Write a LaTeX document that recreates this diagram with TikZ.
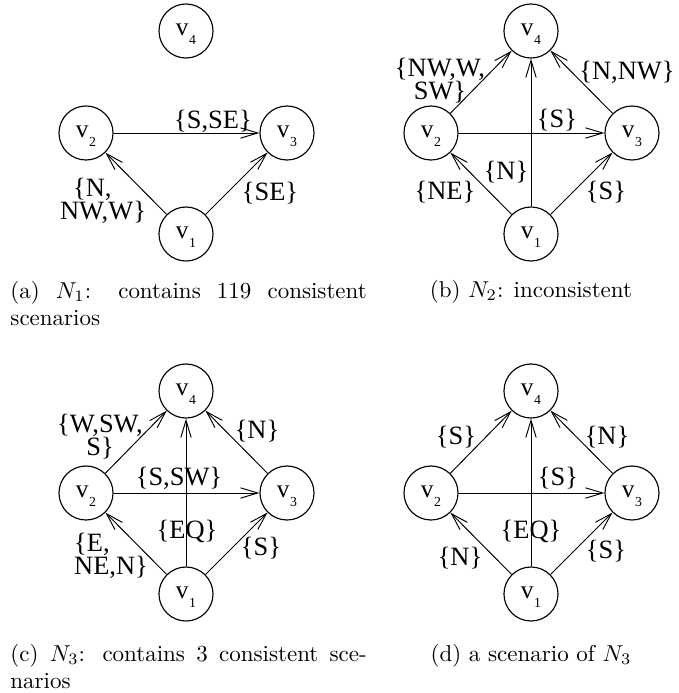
\documentclass[tikz,border=0pt]{standalone}
\usepackage{fontspec}
\newfontfamily\tfont{Liberation Serif}
\usetikzlibrary{arrows.meta}
\newcommand\vlab[1]{v\kern0.3pt\raisebox{-4pt}{\fontsize{6}{7}\selectfont #1}}
\begin{document}
\begin{tikzpicture}[x=0.435pt,y=-0.435pt,
  vtx/.style={circle,draw,line width=0.5pt,minimum size=23.5pt,inner sep=0pt,
    text height=5pt,text depth=1.4pt,font=\tfont\fontsize{11}{13}\selectfont},
  lab/.style={font=\tfont\fontsize{11.5}{10}\selectfont,inner sep=0pt},
  conn/.style={line width=0.42pt,-{Straight Barb[length=7.5pt,width=4.5pt]}},
  captext/.style={font=\fontsize{10}{12}\selectfont,inner sep=0pt}]
\useasboundingbox (0,0) rectangle (678,693);
% ---- (a)
\node[vtx] (a4) at (186,31) {\vlab{4}};
\node[vtx] (a2) at (86,133) {\vlab{2}};
\node[vtx] (a3) at (287,133) {\vlab{3}};
\node[vtx] (a1) at (186,234) {\vlab{1}};
\draw[conn] (a2) -- (a3);
\draw[conn] (a1) -- (a2);
\draw[conn] (a1) -- (a3);
\node[lab] (la23) at (213,121) {\{S,SE\}};
\node[lab,align=left] (la12) at (103,201) {\hspace*{5.7pt}\{N,\\NW,W\}};
\node[lab] (la13) at (270,193) {\{SE\}};
% ---- (b)
\node[vtx] (b4) at (531,31) {\vlab{4}};
\node[vtx] (b2) at (431,133) {\vlab{2}};
\node[vtx] (b3) at (632,133) {\vlab{3}};
\node[vtx] (b1) at (531,234) {\vlab{1}};
\draw[conn] (b2) -- (b3);
\draw[conn] (b1) -- (b2);
\draw[conn] (b1) -- (b3);
\draw[conn] (b2) -- (b4);
\draw[conn] (b3) -- (b4);
\draw[conn] (b1) -- (b4);
\node[lab,align=center] (lb24) at (440,81) {\{NW,W,\\SW\}};
\node[lab] (lb34) at (627,72) {\{N,NW\}};
\node[lab] (lb23) at (557,120) {\{S\}};
\node[lab] (lb14) at (506,172) {\{N\}};
\node[lab] (lb12) at (445,192) {\{NE\}};
\node[lab] (lb13) at (606,192) {\{S\}};
% ---- (c)
\node[vtx] (c4) at (186,391) {\vlab{4}};
\node[vtx] (c2) at (86,493) {\vlab{2}};
\node[vtx] (c3) at (287,493) {\vlab{3}};
\node[vtx] (c1) at (186,594) {\vlab{1}};
\draw[conn] (c2) -- (c3);
\draw[conn] (c1) -- (c2);
\draw[conn] (c1) -- (c3);
\draw[conn] (c2) -- (c4);
\draw[conn] (c3) -- (c4);
\draw[conn] (c1) -- (c4);
\node[lab,align=center] (lc24) at (100,437) {\{W,SW,\\S\}};
\node[lab] (lc34) at (257,431) {\{N\}};
\node[lab] (lc23) at (179,478) {\{S,SW\}};
\node[lab] (lc14) at (187,531) {\{EQ\}};
\node[lab,align=left] (lc12) at (111,556) {\{E,\\NE,N\}};
\node[lab] (lc13) at (261,548) {\{S\}};
% ---- (d)
\node[vtx] (d4) at (531,391) {\vlab{4}};
\node[vtx] (d2) at (431,493) {\vlab{2}};
\node[vtx] (d3) at (632,493) {\vlab{3}};
\node[vtx] (d1) at (531,594) {\vlab{1}};
\draw[conn] (d2) -- (d3);
\draw[conn] (d1) -- (d2);
\draw[conn] (d1) -- (d3);
\draw[conn] (d2) -- (d4);
\draw[conn] (d3) -- (d4);
\draw[conn] (d1) -- (d4);
\node[lab] (ld24) at (456,437) {\{S\}};
\node[lab] (ld34) at (607,437) {\{N\}};
\node[lab] (ld23) at (558,478) {\{S\}};
\node[lab] (ld14) at (531,531) {\{EQ\}};
\node[lab] (ld12) at (460,558) {\{N\}};
\node[lab] (ld13) at (606,551) {\{S\}};
% ---- captions
\node[captext,text width=155pt,align=justify,anchor=base west] (capa) at (10,298)
  {(a) $N_1$: contains 119 consistent\linebreak scenarios};
\node[captext,anchor=base] (capb) at (531,297) {(b) $N_2$: inconsistent};
\node[captext,text width=155pt,align=justify,anchor=base west] (capc) at (10,661)
  {(c) $N_3$: contains 3 consistent sce-\linebreak narios};
\node[captext,anchor=base] (capd) at (531,661) {(d) a scenario of $N_3$};
\end{tikzpicture}
\end{document}
